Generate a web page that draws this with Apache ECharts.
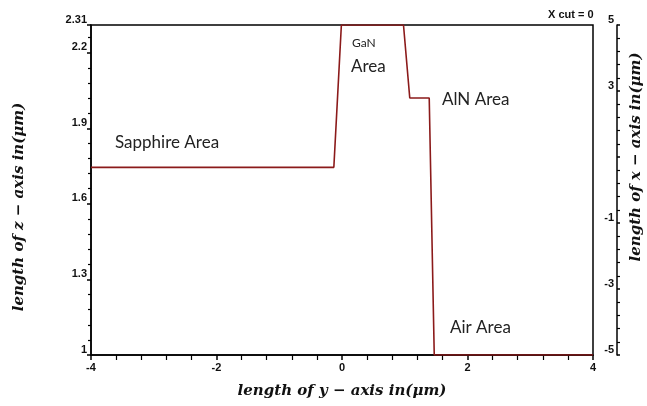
<!DOCTYPE html>
<html><head><meta charset="utf-8">
<script src="https://cdn.jsdelivr.net/npm/echarts@6/dist/echarts.min.js"></script>
<style>html,body{margin:0;padding:0;background:#fff}#c{width:647px;height:406px}</style>
</head><body><div id="c"></div>
<script>
// y-axis positions (µm) of the profile vertices
const yPos = [-4, -0.13, -0.01, 0.98, 1.08, 1.39, 1.47, 4];
// z-axis positions (µm)
const zPos = [1.745, 1.745, 2.31, 2.31, 2.02, 2.02, 1, 1];
const xTicks = [-4, -2, 0, 2, 4];
const zTicks = [1, 1.3, 1.6, 1.9, 2.2, 2.31];
const rightTicks = [5, 3, -1, -3, -5];
const regionLabels = ['Sapphire Area', 'GaN', 'Area', 'AlN Area', 'Air Area'];

const chart = echarts.init(document.getElementById('c'));
const tickFont = {fontFamily: "'Liberation Sans Narrow','Liberation Sans',Arial", fontSize: 11, fontWeight: 'bold', color: '#111'};
const nameFont = {fontFamily: "'DejaVu Serif','Liberation Serif',serif", fontSize: 15, fontWeight: 'bold', fontStyle: 'italic', color: '#111'};
const lineStyle = {color: '#000', width: 1.5};
function fmt(list){ return v => list.some(t => Math.abs(t - v) < 1e-6) ? String(v) : ''; }
chart.setOption({
  animation: false,
  grid: {left: 91, right: 54, top: 25, bottom: 51, show: true, borderColor: '#000', borderWidth: 1.5, containLabel: false, outerBoundsMode: 'none'},
  xAxis: {
    type: 'value', min: -4, max: 4, interval: 2,
    name: 'length of y \u2212 axis in(\u03bcm)', nameLocation: 'middle', nameGap: 29, nameTextStyle: nameFont,
    axisLine: {onZero: false, lineStyle}, axisTick: {length: 5, lineStyle},
    minorTick: {show: true, splitNumber: 5, length: 5, lineStyle: {color: '#000', width: 1.2}},
    splitLine: {show: false},
    axisLabel: Object.assign({margin: 7, formatter: fmt(xTicks)}, tickFont)
  },
  yAxis: [{
    type: 'value', min: 1, max: 2.31, interval: 0.3, position: 'left',
    name: 'length of z \u2212 axis in(\u03bcm)', nameLocation: 'middle', nameGap: 64, nameRotate: 90,
    nameTextStyle: Object.assign({padding: [0, 34, 0, 0]}, nameFont),
    axisLine: {onZero: false, lineStyle}, axisTick: {length: 4, lineStyle},
    minorTick: {show: true, splitNumber: 5, length: 3, lineStyle: {color: '#000', width: 1.2}},
    splitLine: {show: false},
    axisLabel: Object.assign({margin: 4, verticalAlign: 'bottom', showMaxLabel: true, formatter: fmt(zTicks)}, tickFont)
  }, {
    type: 'value', min: -5, max: 5, interval: 2, position: 'right', offset: 24,
    name: 'length of x \u2212 axis in(\u03bcm)', nameLocation: 'middle', nameGap: 12, nameRotate: 90,
    nameTextStyle: Object.assign({padding: [0, 0, 0, 66]}, nameFont),
    axisLine: {show: true, onZero: false, lineStyle}, axisTick: {show: true, length: 3, lineStyle},
    minorTick: {show: true, splitNumber: 5, length: 3, lineStyle: {color: '#000', width: 1.2}},
    splitLine: {show: false},
    axisLabel: Object.assign({inside: true, margin: 3, verticalAlign: 'bottom', formatter: fmt(rightTicks)}, tickFont)
  }],
  graphic: [
    {type: 'text', left: 548, top: 9, style: {text: 'X cut = 0', font: "bold 11px 'Liberation Sans Narrow','Liberation Sans'", fill: '#111'}},
    {type: 'text', left: 115, top: 134, style: {text: regionLabels[0], font: "17px Lato, 'Open Sans'", fill: '#222'}},
    {type: 'text', left: 352, top: 37, style: {text: regionLabels[1], font: "12px Lato, 'Open Sans'", fill: '#222'}},
    {type: 'text', left: 351, top: 58, style: {text: regionLabels[2], font: "17px Lato, 'Open Sans'", fill: '#222'}},
    {type: 'text', left: 442, top: 91, style: {text: regionLabels[3], font: "17px Lato, 'Open Sans'", fill: '#222'}},
    {type: 'text', left: 450, top: 319, style: {text: regionLabels[4], font: "17px Lato, 'Open Sans'", fill: '#222'}}
  ],
  series: [{
    type: 'line', yAxisIndex: 0, showSymbol: false, symbol: 'none',
    data: yPos.map((v, i) => [v, zPos[i]]),
    lineStyle: {color: '#8b1a1a', width: 1.6}
  }]
});
</script></body></html>
